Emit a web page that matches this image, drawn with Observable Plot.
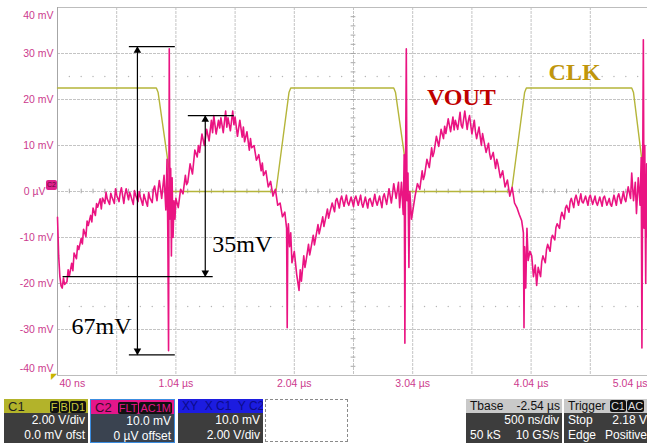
<!DOCTYPE html>
<html>
<head>
<meta charset="utf-8">
<script src="https://cdn.jsdelivr.net/npm/d3@7"></script>
<script src="https://cdn.jsdelivr.net/npm/@observablehq/plot@0.6"></script>
<style>
  body { margin: 0; background: #fff; }
  #scope { position: relative; width: 647px; height: 447px; overflow: hidden; font-family: "Liberation Sans", Arial, sans-serif; }
  #plot { position: absolute; left: 0; top: 0; }
  .box { position: absolute; top: 399px; height: 44px; background: #3d3d3d; color: #fff; font-size: 12px; box-sizing: border-box; overflow: hidden; }
  .hdr { height: 14px; display: flex; align-items: center; justify-content: space-between; padding: 0 2px 0 4px; font-size: 12px; white-space: nowrap; }
  .row { height: 15px; line-height: 15px; display: flex; justify-content: space-between; padding: 0 3px 0 4px; white-space: nowrap; }
  .end { justify-content: flex-end; }
  .tag { background: #111; border-radius: 2px; padding: 0 1px; margin-left: 1px; font-size: 11px; line-height: 12px; }
  .badge { position: absolute; left: 46px; top: 180px; width: 11px; height: 10px; background: #e0208c; border-radius: 2px; color: #5a0a3a; font-size: 7px; line-height: 10px; text-align: center; }
  .trig { position: absolute; left: 51px; top: 372px; color: #c8b400; font-size: 8px; }
</style>
</head>
<body>
<div id="scope">
  <div id="plot"></div>
  <div class="badge">C2</div>
  <div class="trig">◤</div>

  <div class="box" style="left:4px;width:84px;">
    <div class="hdr" style="background:#b3b32a;color:#222;font-size:13px;"><span>C1</span><span><span class="tag" style="color:#c8c83a">F</span><span class="tag" style="color:#c8c83a">B</span><span class="tag" style="color:#c8c83a">D1</span></span></div>
    <div class="row end">2.00 V/div</div>
    <div class="row end">0.0 mV ofst</div>
  </div>

  <div class="box" style="left:90px;width:85px;background:#3a4350;border:1.5px solid #3b8de0;">
    <div class="hdr" style="background:#e4168a;color:#3a0a2a;font-size:13px;"><span>C2</span><span><span class="tag" style="color:#e4168a">FLT</span><span class="tag" style="color:#e4168a">AC1M</span></span></div>
    <div class="row end">10.0 mV</div>
    <div class="row end">0 µV offset</div>
  </div>

  <div class="box" style="left:178px;width:85px;">
    <div class="hdr" style="background:#1c1ce0;color:#0b0b8a;font-size:12px;"><span>XY&nbsp; X C1&nbsp; Y C2</span></div>
    <div class="row end">10.0 mV</div>
    <div class="row end">2.00 V/div</div>
  </div>

  <div style="position:absolute;left:265px;top:399px;width:83px;height:43px;border:1px dashed #8a8a8a;box-sizing:border-box;"></div>

  <div class="box" style="left:466px;width:96px;">
    <div class="hdr" style="background:#c9c9c9;color:#111;"><span>Tbase</span><span>-2.54 µs</span></div>
    <div class="row end">500 ns/div</div>
    <div class="row"><span>50 kS</span><span>10 GS/s</span></div>
  </div>

  <div class="box" style="left:564px;width:92px;">
    <div class="hdr" style="background:#c9c9c9;color:#111;justify-content:flex-start;"><span>Trigger&nbsp;</span><span class="tag" style="color:#ddd">C1</span><span class="tag" style="color:#ddd">AC</span></div>
    <div class="row" style="padding-right:9px;"><span>Stop</span><span>2.18 V</span></div>
    <div class="row" style="padding-right:9px;"><span>Edge</span><span>Positive</span></div>
  </div>
</div>

<script>
// Axis ticks (time in µs, amplitude in mV)
const xTicks = [0.04, 1.04, 2.04, 3.04, 4.04, 5.04];
const xTickLabels = ["40 ns", "1.04 µs", "2.04 µs", "3.04 µs", "4.04 µs", "5.04 µs"];
const yTicks = [40, 30, 20, 10, 0, -10, -20, -30, -40];
const yTickLabels = ["40 mV", "30 mV", "20 mV", "10 mV", "0 µV", "-10 mV", "-20 mV", "-30 mV", "-40 mV"];
const gridX = [0.54, 1.04, 1.54, 2.04, 2.54, 3.04, 3.54, 4.04, 4.54, 5.04];
const gridY = [30, 20, 10, 0, -10, -20, -30];
const levelMarks = [25, -25];

// Channel 1: clock [µs, mV]
const clk = [
  [0.04, 22.5], [0.875, 22.5], [0.89, 21.5], [0.97, 7], [1.01, 0],
  [1.885, 0], [1.995, 21.5], [2.01, 22.5], [2.88, 22.5], [2.895, 21.5],
  [2.975, 7], [3.0, 0], [3.875, 0], [3.985, 21.5], [4.0, 22.5],
  [4.89, 22.5], [4.905, 21.5], [4.975, 7], [5.01, 0], [5.04, 0]
];

// Channel 2: output ripple [µs, mV]
const vout = [
  [0.04,-5.6],[0.05,-14],[0.06,-18.5],[0.07,-20.5],[0.08,-21],[0.09,-18.8],[0.10,-20.2],[0.12,-19.6],
  [0.13,-17],[0.14,-18.4],[0.16,-15.6],[0.17,-17.2],[0.18,-13.4],[0.20,-14.6],[0.21,-11.8],[0.22,-12.6],
  [0.24,-10.2],[0.25,-11.4],[0.26,-8.2],[0.28,-9.8],[0.29,-6.4],[0.30,-7.4],[0.32,-5.2],[0.33,-6.6],
  [0.34,-3.6],[0.36,-5.2],[0.37,-2.6],[0.38,-3.4],[0.40,-1.6],[0.41,-3.8],[0.42,-1.4],[0.44,-2.6],
  [0.45,-0.2],[0.46,-1.6],[0.48,-2.8],[0.49,-0.4],[0.50,-1.2],[0.52,-2.6],[0.53,0.6],[0.54,-0.8],
  [0.56,-2.2],[0.57,-0.2],[0.58,0.8],[0.60,-2.6],[0.61,-0.6],[0.62,0.6],[0.64,-1.8],[0.65,-0.2],
  [0.66,-1],[0.68,-2.8],[0.69,0.2],[0.70,-0.8],[0.72,-2.2],[0.73,0],[0.74,-1.2],[0.76,-3],
  [0.77,-0.6],[0.78,-1.6],[0.80,-3.2],[0.81,-0.2],[0.82,-1.4],[0.84,-2.4],[0.85,0.4],[0.86,1.2],
  [0.88,-2],[0.89,0.4],[0.90,2.4],[0.92,-1.5],[0.94,3.5],
  [0.955,-4],[0.965,7],[0.972,-10],[0.978,-34.6],[0.984,31],[0.990,-6],[0.996,5],[1.002,-14],
  [1.008,3],[1.016,-10],[1.024,-2],[1.032,-6],[1.04,-1.5],[1.06,-3.5],[1.08,0.5],[1.10,-0.5],
  [1.12,3.5],[1.13,1.5],[1.14,2],[1.16,6],[1.18,3.8],[1.20,9],[1.22,7.5],[1.23,10],
  [1.24,8.5],[1.26,12.5],[1.28,10],[1.30,13.5],[1.32,11],[1.34,15.5],[1.35,12.8],[1.36,16.5],
  [1.38,12.5],[1.40,15.5],[1.41,13.8],[1.42,16],[1.44,12.8],[1.46,17.5],[1.47,14],[1.48,16],
  [1.50,13.2],[1.52,17.5],[1.53,14.5],[1.54,16.2],[1.56,12],[1.58,15.5],[1.60,11.8],[1.61,14],
  [1.62,10.8],[1.64,13],[1.66,9],[1.67,11.5],[1.68,9.5],[1.70,10],[1.72,6.8],[1.74,8],
  [1.76,4.5],[1.77,6.2],[1.78,3.5],[1.80,4.5],[1.82,1],[1.84,2.2],[1.86,-1],[1.88,0.5],
  [1.90,-3],[1.92,-2.5],[1.94,-5.5],[1.96,-4.5],[1.975,-8],[1.98,-29.6],[1.985,-10],[1.99,-7],
  [2.00,-12],[2.01,-9],[2.02,-15.5],[2.04,-13],[2.06,-18],[2.08,-21.5],[2.09,-17],[2.10,-19.5],
  [2.12,-14],[2.13,-16.5],[2.14,-15],[2.16,-11.5],[2.17,-13.8],[2.18,-12.4],[2.20,-9.5],[2.21,-11.6],
  [2.22,-10.2],[2.24,-7.2],[2.25,-9.2],[2.26,-8],[2.28,-5.5],[2.29,-7.6],[2.30,-6.4],[2.32,-3.8],
  [2.33,-5.8],[2.34,-4.6],[2.36,-2.5],[2.38,-4.4],[2.39,-2],[2.40,-1.5],[2.42,-3.6],[2.43,-1.8],
  [2.44,-1],[2.46,-3.2],[2.48,-0.8],[2.49,-2.4],[2.50,-3],[2.52,-1.2],[2.54,-3.3],[2.55,-1.6],
  [2.56,-1],[2.58,-3],[2.60,-0.8],[2.61,-2.6],[2.62,-3.4],[2.64,-1.2],[2.66,-3.6],[2.67,-1.8],
  [2.68,-1.5],[2.70,-3.2],[2.72,-0.6],[2.73,-2.2],[2.74,-3],[2.76,-1],[2.78,-3.5],[2.79,-1.2],
  [2.80,-0.5],[2.82,-2.8],[2.84,0.6],[2.85,-1],[2.86,-2.5],[2.88,1.7],[2.90,-1.5],[2.92,2],
  [2.93,-3.5],[2.945,2],[2.96,-5],[2.968,8],[2.974,-33],[2.98,6],[2.986,31],[2.992,-2],
  [3.00,4],[3.008,-16.5],[3.016,0],[3.03,-6],[3.045,-3.5],[3.06,-1],[3.08,1.7],[3.10,0.5],
  [3.12,4.5],[3.13,2.6],[3.14,3.5],[3.16,7],[3.18,5.2],[3.20,9.5],[3.21,7.6],[3.22,8.5],
  [3.24,12],[3.26,9.8],[3.28,13.5],[3.30,11.5],[3.31,14.2],[3.32,12.6],[3.34,15.8],[3.36,13],
  [3.38,16.2],[3.39,13.4],[3.40,15.5],[3.42,13.5],[3.44,17.2],[3.45,14.4],[3.46,13.8],[3.48,17.5],
  [3.50,13.5],[3.51,15.4],[3.52,16.5],[3.54,12.5],[3.56,15.5],[3.57,13],[3.58,11.5],[3.60,14],
  [3.62,10],[3.63,12.6],[3.64,11.2],[3.66,8.5],[3.68,10.5],[3.69,8.2],[3.70,7],[3.72,8.5],
  [3.74,5],[3.75,7],[3.76,6],[3.78,3],[3.80,4.5],[3.82,1],[3.84,2.5],[3.86,-1],
  [3.88,0.9],[3.90,-2.5],[3.92,-3.5],[3.94,-5],[3.96,-6.3],[3.975,-9],[3.98,-29.6],[3.985,-12],
  [3.995,-21],[4.005,-8],[4.015,-15],[4.03,-13],[4.045,-14],[4.06,-18.5],[4.075,-16],[4.087,-20.4],
  [4.10,-16.5],[4.12,-18.5],[4.13,-15.2],[4.14,-14],[4.16,-15.5],[4.17,-12.6],[4.18,-11.5],[4.20,-13],
  [4.21,-10.4],[4.22,-9.5],[4.24,-10.5],[4.25,-7.8],[4.26,-7],[4.28,-8],[4.29,-5.6],[4.30,-4.5],
  [4.32,-6],[4.33,-3.6],[4.34,-3],[4.36,-4.5],[4.37,-2.2],[4.38,-1.5],[4.40,-3.5],[4.41,-1.6],
  [4.42,-0.8],[4.44,-3],[4.46,-0.5],[4.47,-2.2],[4.48,-2.5],[4.50,-1],[4.52,-3],[4.53,-1.4],
  [4.54,-0.8],[4.56,-2.8],[4.58,-1],[4.59,-2.4],[4.60,-3],[4.62,-1.2],[4.64,-3.2],[4.65,-1.4],
  [4.66,-1],[4.68,-3],[4.70,-1.5],[4.71,-2.8],[4.72,-3.2],[4.74,-0.8],[4.76,-3],[4.77,-1.2],
  [4.78,-0.5],[4.80,-2.6],[4.82,0],[4.83,-1.6],[4.84,-2.2],[4.86,1],[4.88,-1.5],[4.89,4],
  [4.905,-2],[4.92,2],[4.93,-4.8],[4.945,3],[4.96,-3],[4.97,7.4],[4.976,-34],[4.982,2],
  [4.988,33],[4.994,-8],[5.00,10],[5.008,-20],[5.016,6],[5.024,-10],[5.032,4],[5.04,-6]
];

// Peak-to-peak measurements: vertical span (mV) and where the cursor sits (µs)
const spanLabels = ["67mV", "35mV"];
const spanTop = [31.5, 16.5];
const spanBottom = [-35.5, -18.5];
const spanAt = [0.715, 1.288];
const topCapFrom = [0.647, 1.145], topCapTo = [1.035, 1.532];
const bottomCapFrom = [0.647, 0.087], bottomCapTo = [1.035, 1.355];
const spanText = [[0.158, -29.3], [1.347, -11.4]];

// Trace names
const traceNames = ["VOUT", "CLK"];
const traceNameAt = [[3.16, 20.5], [4.188, 25.9]];
const traceNameColors = ["#c00000", "#c0960c"];

const minorTime = d3.range(1, 50).map(i => 0.04 + i * 0.1);
const minorMv = d3.range(-19, 20).map(i => i * 2);

const spans = spanLabels.map((label, i) => ({
  label, top: spanTop[i], bottom: spanBottom[i], at: spanAt[i],
  tf: topCapFrom[i], tt: topCapTo[i], bf: bottomCapFrom[i], bt: bottomCapTo[i],
  lx: spanText[i][0], ly: spanText[i][1]
}));
const names = traceNames.map((name, i) => ({name, t: traceNameAt[i][0], v: traceNameAt[i][1], color: traceNameColors[i]}));
const yRows = yTicks.map((v, i) => ({v, label: yTickLabels[i]}));
const xRows = xTicks.map((t, i) => ({t, label: xTickLabels[i]}));
const levelDots = levelMarks.flatMap(v => minorTime.map(t => ({t, v})));

const gridStyle = {stroke: "#c4c4c4", strokeDasharray: "3,1"};
const tickColor = "#cc3a8e";
const tickFont = 10.5;

const chart = Plot.plot({
  width: 647,
  height: 395,
  marginLeft: 57,
  marginRight: 0,
  marginTop: 7,
  marginBottom: 20,
  x: {domain: [0.04, 5.04], range: [57, 649], axis: null},
  y: {domain: [-40, 40], axis: null},
  style: {fontFamily: "'Liberation Sans', Arial, sans-serif", background: "transparent", overflow: "visible"},
  marks: [
    Plot.ruleX(gridX, gridStyle),
    Plot.ruleY(gridY, gridStyle),
    Plot.ruleY([40, -40], {stroke: "#bdbdbd"}),
    Plot.ruleX([0.04], {stroke: "#a6a6a6"}),
    Plot.dot(levelDots, {x: "t", y: "v", r: 0.7, fill: "#b4b4b4", stroke: null}),
    Plot.ruleX(minorTime, {x: d => d, y1: -0.5, y2: 0.5, stroke: "#a8a8a8"}),
    Plot.ruleY(minorMv, {y: d => d, x1: 2.52, x2: 2.56, stroke: "#a8a8a8"}),

    Plot.line(clk, {x: d => d[0], y: d => d[1], stroke: "#b5b53a", strokeWidth: 1.4}),
    Plot.line(vout, {x: d => d[0], y: d => d[1], stroke: "#ea1482", strokeWidth: 1.6, strokeLinejoin: "round"}),

    // measurement cursors
    Plot.ruleX(spans, {x: "at", y1: "top", y2: "bottom", stroke: "#000", strokeWidth: 1.2}),
    Plot.ruleY(spans, {y: "top", x1: "tf", x2: "tt", stroke: "#000", strokeWidth: 1.2}),
    Plot.ruleY(spans, {y: "bottom", x1: "bf", x2: "bt", stroke: "#000", strokeWidth: 1.2}),
    Plot.dot(spans, {x: "at", y: "top", symbol: "triangle", r: 2.8, fill: "#000", stroke: null, dy: 4}),
    Plot.dot(spans, {x: "at", y: "bottom", symbol: "triangle", r: 2.8, fill: "#000", stroke: null, dy: -4, rotate: 180}),
    Plot.text(spans, {x: "lx", y: "ly", text: "label", textAnchor: "start", fontFamily: "'Liberation Serif', 'Times New Roman', serif", fontSize: 24, fill: "#000"}),

    Plot.text(names, {x: "t", y: "v", text: "name", fill: "color", textAnchor: "start", fontFamily: "'Liberation Serif', 'Times New Roman', serif", fontWeight: "bold", fontSize: 24}),

    // amplitude labels
    Plot.text(yRows.filter(d => d.v === 40), {x: 0.04, y: "v", text: "label", textAnchor: "end", dx: -4, dy: 8, fill: tickColor, fontSize: tickFont}),
    Plot.text(yRows.filter(d => d.v !== 40 && d.v !== -40 && d.v !== 0), {x: 0.04, y: "v", text: "label", textAnchor: "end", dx: -4, fill: tickColor, fontSize: tickFont}),
    Plot.text(yRows.filter(d => d.v === 0), {x: 0.04, y: "v", text: "label", textAnchor: "end", dx: -12, fill: tickColor, fontSize: tickFont}),
    Plot.text(yRows.filter(d => d.v === -40), {x: 0.04, y: "v", text: "label", textAnchor: "end", dx: -4, dy: -7, fill: tickColor, fontSize: tickFont}),

    // time labels
    Plot.text(xRows.slice(0, 1), {x: "t", y: -40, text: "label", textAnchor: "start", dx: 2, dy: 8, fill: tickColor, fontSize: tickFont}),
    Plot.text(xRows.slice(1, -1), {x: "t", y: -40, text: "label", textAnchor: "middle", dy: 8, fill: tickColor, fontSize: tickFont}),
    Plot.text(xRows.slice(-1), {x: "t", y: -40, text: "label", textAnchor: "end", dx: -2, dy: 8, fill: tickColor, fontSize: tickFont})
  ]
});

document.getElementById("plot").appendChild(chart);
</script>
</body>
</html>
